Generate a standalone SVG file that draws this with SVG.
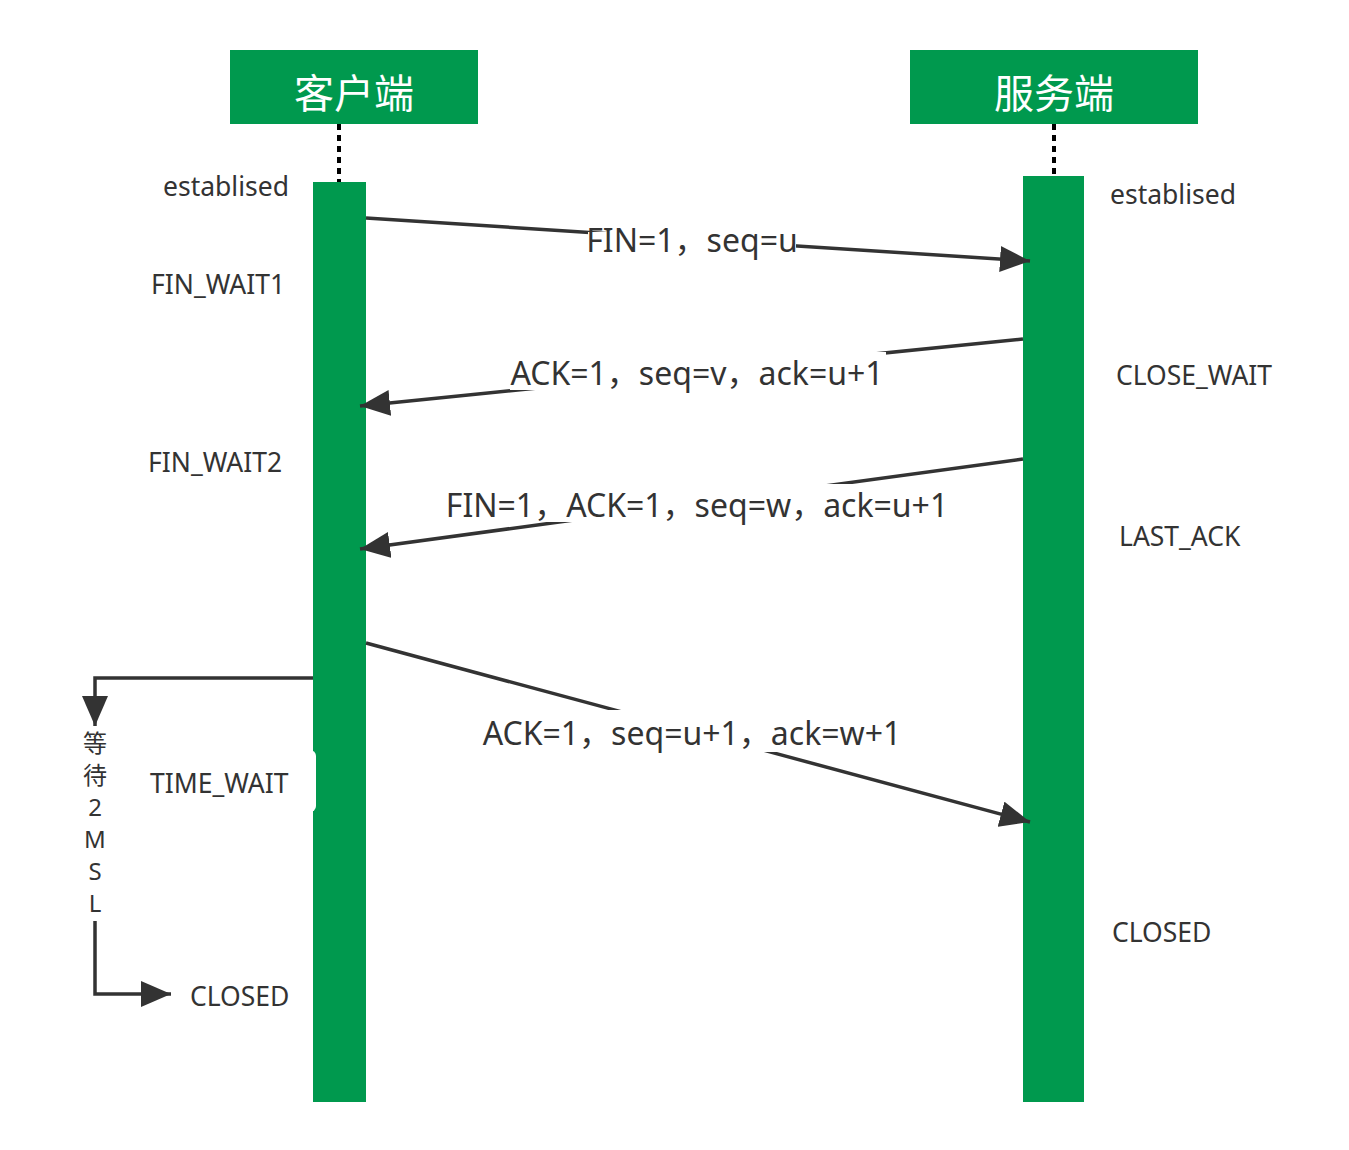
<svg xmlns="http://www.w3.org/2000/svg" width="1349" height="1150" viewBox="0 0 1349 1150">
  <style>
    .head { fill: #00994e; }
    .bar { fill: #00994e; }
    .headtxt { font-family: "Noto Sans CJK SC", "Noto Sans", sans-serif; font-size: 40px; fill: #ffffff; text-anchor: middle; }
    .state { font-family: "Noto Sans", "Noto Sans CJK SC", sans-serif; font-size: 26.5px; fill: #333333; }
    .msg { font-family: "Noto Sans", "Noto Sans CJK SC", sans-serif; font-size: 32px; fill: #333333; text-anchor: middle; }
    .vert { font-family: "Noto Sans", "Noto Sans CJK SC", sans-serif; font-size: 24px; fill: #333333; text-anchor: middle; }
    .life { stroke: #000000; stroke-width: 4; stroke-dasharray: 6 5; fill: none; }
    .conn { stroke: #333333; stroke-width: 3.5; fill: none; }
    .lblbg { fill: #ffffff; }
  </style>
  <defs>
    <marker id="arrow" markerUnits="userSpaceOnUse" markerWidth="32" markerHeight="26" refX="30" refY="13" orient="auto">
      <path d="M0,0 L30,13 L0,26 Z" fill="#333333"/>
    </marker>
  </defs>

  <rect width="1349" height="1150" fill="#ffffff"/>

  <!-- client lifeline -->
  <g id="client">
    <rect class="head" x="230" y="50" width="248" height="74"/>
    <text class="headtxt" x="354" y="108">客户端</text>
    <line class="life" x1="339" y1="124" x2="339" y2="182"/>
    <rect class="bar" x="313" y="182" width="53" height="920"/>
  </g>

  <!-- server lifeline -->
  <g id="server">
    <rect class="head" x="910" y="50" width="288" height="74"/>
    <text class="headtxt" x="1054" y="108">服务端</text>
    <line class="life" x1="1054" y1="124" x2="1054" y2="176"/>
    <rect class="bar" x="1023" y="176" width="61" height="926"/>
  </g>

  <!-- message connectors -->
  <g id="connectors">
    <line class="conn" x1="366" y1="218" x2="1030" y2="261" marker-end="url(#arrow)"/>
    <line class="conn" x1="1023" y1="339" x2="360" y2="406" marker-end="url(#arrow)"/>
    <line class="conn" x1="1023" y1="459" x2="360" y2="549" marker-end="url(#arrow)"/>
    <line class="conn" x1="366" y1="643" x2="1030" y2="822" marker-end="url(#arrow)"/>
    <polyline class="conn" points="313,678 95,678 95,726" marker-end="url(#arrow)"/>
    <polyline class="conn" points="95,921 95,994 171,994" marker-end="url(#arrow)"/>
  </g>

  <!-- message labels -->
  <g id="msg1">
    <rect class="lblbg" x="588" y="232" width="208" height="24"/>
    <text class="msg" x="692" y="252">FIN=1，seq=u</text>
  </g>
  <g id="msg2">
    <rect class="lblbg" x="510" y="352" width="376" height="38"/>
    <text class="msg" x="697" y="385">ACK=1，seq=v，ack=u+1</text>
  </g>
  <g id="msg3">
    <rect class="lblbg" x="446" y="484" width="502" height="38"/>
    <text class="msg" x="697" y="517">FIN=1，ACK=1，seq=w，ack=u+1</text>
  </g>
  <g id="msg4">
    <rect class="lblbg" x="480" y="710" width="424" height="42"/>
    <text class="msg" x="692" y="745">ACK=1，seq=u+1，ack=w+1</text>
  </g>

  <!-- client states -->
  <g id="client-states">
    <text class="state" x="163" y="196">establised</text>
    <text class="state" x="151" y="294">FIN_WAIT1</text>
    <text class="state" x="148" y="472">FIN_WAIT2</text>
    <rect class="lblbg" x="140" y="750" width="176" height="62" rx="6"/>
    <text class="state" x="150" y="793">TIME_WAIT</text>
    <text class="state" x="190" y="1006">CLOSED</text>
  </g>

  <!-- wait label on the elbow -->
  <g id="wait-2msl">
    <text class="vert" x="95" y="752">等</text>
    <text class="vert" x="95" y="784">待</text>
    <text class="vert" x="95" y="816">2</text>
    <text class="vert" x="95" y="848">M</text>
    <text class="vert" x="95" y="880">S</text>
    <text class="vert" x="95" y="912">L</text>
  </g>

  <!-- server states -->
  <g id="server-states">
    <text class="state" x="1110" y="204">establised</text>
    <text class="state" x="1116" y="385">CLOSE_WAIT</text>
    <text class="state" x="1119" y="546">LAST_ACK</text>
    <text class="state" x="1112" y="942">CLOSED</text>
  </g>
</svg>
